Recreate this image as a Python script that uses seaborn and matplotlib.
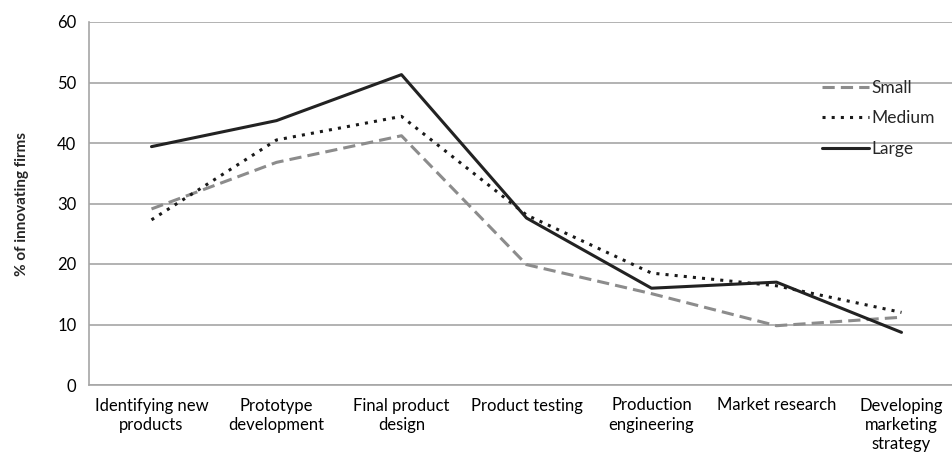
import pandas as pd
import matplotlib.pyplot as plt
import seaborn as sns

categories = ["Identifying new\nproducts", "Prototype\ndevelopment", "Final product\ndesign",
              "Product testing", "Production\nengineering", "Market research",
              "Developing\nmarketing\nstrategy"]
small = [29.1, 36.8, 41.2, 19.9, 15.1, 9.8, 11.2]
medium = [27.3, 40.5, 44.4, 28.1, 18.5, 16.4, 12.0]
large = [39.4, 43.7, 51.3, 27.6, 16.0, 17.0, 8.7]

df = pd.DataFrame({
    "stage": categories * 3,
    "pct": small + medium + large,
    "size": ["Small"] * 7 + ["Medium"] * 7 + ["Large"] * 7,
})

sns.set_theme(style="white")
plt.rcParams["font.family"] = ["Lato", "DejaVu Sans"]

fig = plt.figure(figsize=(9.52, 4.59), dpi=100)
ax = fig.add_axes([89 / 952, 1 - 385 / 459, 875 / 952, 363 / 459])

sns.lineplot(data=df, x="stage", y="pct", hue="size", style="size", sort=False,
             palette={"Small": "#8c8c8c", "Medium": "#1a1a1a", "Large": "#222222"},
             dashes={"Small": (4, 2), "Medium": (1, 2), "Large": ""},
             linewidth=2.2, ax=ax)

ax.set_xlim(-0.5, 6.5)
ax.set_ylim(0, 60)
ax.set_yticks(range(0, 61, 10))
ax.yaxis.grid(True, color="#a6a6a6", linewidth=1.2)
ax.set_axisbelow(True)
for s in ["top", "right"]:
    ax.spines[s].set_visible(False)
for s in ["left", "bottom"]:
    ax.spines[s].set_color("#a6a6a6")
    ax.spines[s].set_linewidth(1.2)
ax.tick_params(axis="both", length=0, labelsize=12, colors="black", pad=9)
for lab in ax.get_xticklabels():
    lab.set_linespacing(1.25)
ax.set_xlabel("")
ax.set_ylabel("% of innovating firms", fontsize=11, fontweight="bold", labelpad=20)

ax.legend(title=None, frameon=False, fontsize=12.5, handlelength=2.7, handletextpad=0.15,
          labelspacing=0.85, loc="upper left", bbox_to_anchor=(0.82, 0.884))

fig.savefig("out.png", dpi=100)
